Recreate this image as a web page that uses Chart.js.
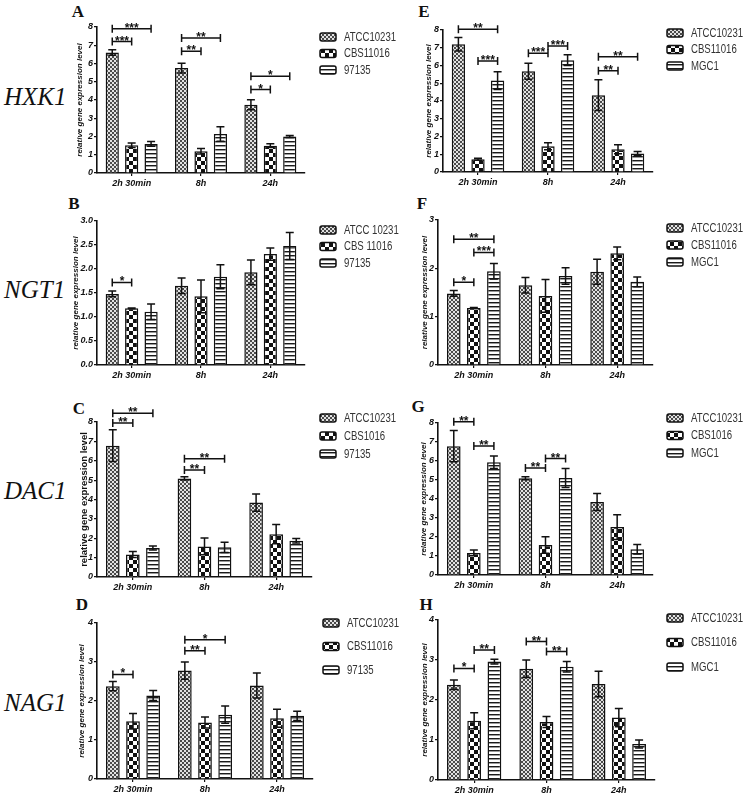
<!DOCTYPE html>
<html><head><meta charset="utf-8">
<script src="https://cdn.jsdelivr.net/npm/chart.js@4.4.1/dist/chart.umd.min.js"></script>
<style>
html,body{margin:0;padding:0;background:#fff;}
body{width:749px;height:797px;position:relative;overflow:hidden;}
canvas{position:absolute;}
.gene{position:absolute;font-family:'Liberation Serif','Times New Roman',serif;font-style:italic;font-size:25px;color:#111;line-height:1;transform:translateY(-50%);}
.let{position:absolute;font-family:'Liberation Serif','Times New Roman',serif;font-weight:bold;font-size:17px;color:#111;line-height:1;transform:translate(-50%,-50%);}
</style></head><body>
<div class="gene" style="left:4px;top:96px">HXK1</div>
<div class="gene" style="left:4px;top:289px">NGT1</div>
<div class="gene" style="left:4px;top:490px">DAC1</div>
<div class="gene" style="left:4px;top:702px">NAG1</div>
<div class="let" style="left:78px;top:11px">A</div>
<div class="let" style="left:424px;top:11px">E</div>
<div class="let" style="left:74px;top:203px">B</div>
<div class="let" style="left:422px;top:203px">F</div>
<div class="let" style="left:79px;top:408px">C</div>
<div class="let" style="left:418px;top:406px">G</div>
<div class="let" style="left:82px;top:604px">D</div>
<div class="let" style="left:426px;top:604px">H</div>
<script>
// ---------------- data ----------------
const categories = ['2h 30min', '8h', '24h'];

// HXK1 — panel A
const hxk1A_atcc = [6.6, 5.75, 3.74];   const hxk1A_atccErr = [0.15, 0.27, 0.28];
const hxk1A_cbs = [1.52, 1.19, 1.5];    const hxk1A_cbsErr = [0.12, 0.15, 0.1];
const hxk1A_97135 = [1.59, 2.14, 2.0];  const hxk1A_97135Err = [0.13, 0.4, 0.05];
// HXK1 — panel E
const hxk1E_atcc = [7.2, 5.68, 4.33];   const hxk1E_atccErr = [0.38, 0.45, 0.87];
const hxk1E_cbs = [0.72, 1.45, 1.28];   const hxk1E_cbsErr = [0.06, 0.2, 0.25];
const hxk1E_mgc1 = [5.15, 6.3, 1.04];   const hxk1E_mgc1Err = [0.5, 0.3, 0.12];
// NGT1 — panels B / F
const ngt1_atcc = [1.48, 1.65, 1.93];   const ngt1_atccErr = [0.06, 0.16, 0.26];
const ngt1_cbs = [1.18, 1.43, 2.31];    const ngt1_cbsErr = [0.01, 0.34, 0.13];
const ngt1_97135 = [1.11, 1.84, 2.48];  const ngt1_97135Err = [0.16, 0.25, 0.28];
const ngt1_mgc1 = [1.94, 1.84, 1.72];   const ngt1_mgc1Err = [0.16, 0.17, 0.1];
// DAC1 — panels C / G
const dac1_atcc = [6.78, 5.09, 3.84];   const dac1_atccErr = [0.82, 0.08, 0.45];
const dac1C_cbs = [1.16, 1.58, 2.21];   const dac1C_cbsErr = [0.15, 0.43, 0.5];
const dac1_97135 = [1.5, 1.53, 1.87];   const dac1_97135Err = [0.1, 0.27, 0.12];
const dac1G_cbs = [1.16, 1.58, 2.52];   const dac1G_cbsErr = [0.15, 0.43, 0.65];
const dac1_mgc1 = [5.93, 5.1, 1.35];    const dac1_mgc1Err = [0.33, 0.5, 0.25];
// NAG1 — panels D / H
const nag1_atcc = [2.38, 2.78, 2.4];    const nag1_atccErr = [0.12, 0.22, 0.32];
const nag1_cbs = [1.48, 1.45, 1.56];    const nag1_cbsErr = [0.2, 0.14, 0.23];
const nag1_97135 = [2.14, 1.65, 1.62];  const nag1_97135Err = [0.13, 0.22, 0.12];
const nag1_mgc1 = [2.96, 2.83, 0.9];    const nag1_mgc1Err = [0.06, 0.13, 0.1];

// legend labels
const legendA = ['ATCC10231', 'CBS11016', '97135'];
const legendB = ['ATCC 10231', 'CBS 11016', '97135'];
const legendC = ['ATCC10231', 'CBS1016', '97135'];
const legendD = ['ATCC10231', 'CBS11016', '97135'];
const legendE = ['ATCC10231', 'CBS11016', 'MGC1'];
const legendF = ['ATCC10231', 'CBS11016', 'MGC1'];
const legendG = ['ATCC10231', 'CBS1016', 'MGC1'];
const legendH = ['ATCC10231', 'CBS11016', 'MGC1'];

// significance brackets: [category, seriesFrom, seriesTo, level, label]
const sigA = [[0,0,1,7.2,'***'],[0,0,2,7.9,'***'],[1,0,1,6.67,'**'],[1,0,2,7.4,'**'],[2,0,1,4.57,'*'],[2,0,2,5.3,'*']];
const sigE = [[0,0,2,8.04,'**'],[0,1,2,6.25,'***'],[1,0,1,6.69,'***'],[1,1,2,7.1,'***'],[2,0,1,5.7,'**'],[2,0,2,6.5,'**']];
const sigB = [[0,0,1,1.72,'*']];
const sigF = [[0,0,1,1.71,'*'],[0,1,2,2.33,'***'],[0,0,2,2.6,'**']];
const sigC = [[0,0,1,7.95,'**'],[0,0,2,8.45,'**'],[1,0,1,5.52,'**'],[1,0,2,6.1,'**']];
const sigG = [[0,0,1,8.07,'**'],[0,1,2,6.79,'**'],[1,0,1,5.63,'**'],[1,1,2,6.13,'**']];
const sigD = [[0,0,1,2.68,'*'],[1,0,1,3.29,'**'],[1,0,2,3.57,'*']];
const sigH = [[0,0,1,2.79,'*'],[0,1,2,3.25,'**'],[1,0,1,3.46,'**'],[1,1,2,3.21,'**']];

// ---------------- styling ----------------
const FA = "'Liberation Sans',Arial,sans-serif";
const INK = '#111';

function makePattern(kind) {
  const c = document.createElement('canvas');
  const x = c.getContext('2d');
  if (kind === 'hatch') {
    c.width = 4; c.height = 4;
    x.fillStyle = '#e2e2e2'; x.fillRect(0, 0, 4, 4);
    x.fillStyle = '#4a4a4a';
    [[0,0],[1,1],[2,2],[3,3],[3,0],[2,1],[1,2],[0,3]].forEach(p => x.fillRect(p[0], p[1], 1, 1));
  } else if (kind === 'check') {
    c.width = 8; c.height = 8;
    x.fillStyle = '#fff'; x.fillRect(0, 0, 8, 8);
    x.fillStyle = '#111'; x.fillRect(0, 0, 4, 4); x.fillRect(4, 4, 4, 4);
  } else {
    c.width = 4; c.height = 4;
    x.fillStyle = '#fff'; x.fillRect(0, 0, 4, 4);
    x.fillStyle = '#1a1a1a'; x.fillRect(0, 0, 4, 1);
    x.fillStyle = '#9a9a9a'; x.fillRect(0, 1, 4, 1);
  }
  return document.createElement('canvas').getContext('2d').createPattern(c, 'repeat');
}
const PAT = [makePattern('hatch'), makePattern('check'), makePattern('lines')];

function makePanel(p) {
  const cl = p.axisX - 40, ct = p.top - 34;
  const cr = p.side === 'L' ? 425 : 749;
  const cb = p.bottom + 22;
  const cv = document.createElement('canvas');
  cv.width = cr - cl; cv.height = cb - ct;
  cv.style.left = cl + 'px'; cv.style.top = ct + 'px';
  cv.style.width = (cr - cl) + 'px'; cv.style.height = (cb - ct) + 'px';
  document.body.appendChild(cv);

  const datasets = p.series.map((s, i) => ({
    label: p.legend[i], data: s[0], errors: s[1],
    backgroundColor: PAT[i], borderColor: INK, borderWidth: 1.5,
    categoryPercentage: 0.84, barPercentage: 0.68
  }));

  const overlay = {
    id: 'overlay',
    afterDatasetsDraw(chart) {
      const ctx = chart.ctx, ys = chart.scales.y;
      ctx.save();
      ctx.strokeStyle = INK; ctx.lineWidth = 1.5;
      // error bars
      chart.data.datasets.forEach((ds, i) => {
        chart.getDatasetMeta(i).data.forEach((bar, j) => {
          const v = ds.data[j], e = ds.errors[j];
          const y1 = ys.getPixelForValue(v + e), y2 = ys.getPixelForValue(Math.max(v - e, 0));
          const x = bar.x, w = 4;
          ctx.beginPath();
          ctx.moveTo(x, y1); ctx.lineTo(x, y2);
          ctx.moveTo(x - w, y1); ctx.lineTo(x + w, y1);
          ctx.moveTo(x - w, y2); ctx.lineTo(x + w, y2);
          ctx.stroke();
        });
      });
      // significance brackets
      ctx.fillStyle = INK;
      ctx.font = 'bold 12px ' + FA;
      ctx.textAlign = 'center'; ctx.textBaseline = 'alphabetic';
      p.sig.forEach(b => {
        const x1 = chart.getDatasetMeta(b[1]).data[b[0]].x;
        const x2 = chart.getDatasetMeta(b[2]).data[b[0]].x;
        const yy = ys.getPixelForValue(b[3]);
        ctx.beginPath();
        ctx.moveTo(x1, yy); ctx.lineTo(x2, yy);
        ctx.moveTo(x1, yy - 4); ctx.lineTo(x1, yy + 4);
        ctx.moveTo(x2, yy - 4); ctx.lineTo(x2, yy + 4);
        ctx.stroke();
        ctx.fillText(b[4], (x1 + x2) / 2, yy + 3);
      });
      // legend (condensed text)
      ctx.font = '12px ' + FA;
      ctx.textAlign = 'left'; ctx.textBaseline = 'middle';
      chart.data.datasets.forEach((ds, i) => {
        const lx = p.legX - cl, ly = p.legY + i * p.legGap - ct;
        ctx.beginPath();
        ctx.roundRect(lx, ly - 4, 16, 8, 2);
        ctx.fillStyle = ds.backgroundColor; ctx.fill();
        ctx.lineWidth = 1.5; ctx.strokeStyle = INK; ctx.stroke();
        ctx.save();
        ctx.translate(lx + 24, ly + 0.5);
        ctx.scale(0.8, 1);
        ctx.fillStyle = '#333';
        ctx.fillText(ds.label, 0, 0);
        ctx.restore();
      });
      ctx.restore();
    }
  };

  const tickFont = { family: FA, size: 9, weight: 'bold', style: 'italic' };
  const gridCfg = { display: true, drawOnChartArea: false, drawTicks: true, tickLength: 3, color: INK, lineWidth: 1.2 };
  const titleFont = p.plainTitle ? { family: FA, size: 9.5, weight: 'bold', style: 'normal' } : { family: FA, size: 8, weight: 'bold', style: 'italic' };
  const lh = titleFont.size * 1.2;

  new Chart(cv, {
    type: 'bar',
    data: { labels: categories, datasets },
    plugins: [overlay],
    options: {
      responsive: false, animation: false, devicePixelRatio: 1,
      layout: { padding: { top: p.top - ct, right: cr - p.right, left: 0, bottom: 0 } },
      plugins: { legend: { display: false }, tooltip: { enabled: false } },
      scales: {
        x: {
          grid: Object.assign({ offset: false }, gridCfg),
          border: { display: true, color: INK, width: 1.6 },
          ticks: { font: tickFont, color: INK, padding: 2, maxRotation: 0, autoSkip: false },
          afterFit(s) { s.height = cb - p.bottom; }
        },
        y: {
          min: 0, max: p.yMax,
          grid: gridCfg,
          border: { display: true, color: INK, width: 1.6 },
          ticks: { stepSize: p.step, color: INK, font: tickFont, padding: 1,
                   callback: v => p.dec ? Number(v).toFixed(1) : v },
          title: { display: true, text: 'relative gene expression level', color: INK, font: titleFont,
                   padding: { top: 40 - p.titleOff - lh / 2, bottom: 0 } },
          afterFit(s) { s.width = 40; }
        }
      }
    }
  });
}

makePanel({ side:'L', axisX:97, top:27, bottom:173, right:305, legX:320, legY:37, legGap:16.5, titleOff:17, yMax:8, step:1,
  legend: legendA, sig: sigA,
  series: [[hxk1A_atcc, hxk1A_atccErr], [hxk1A_cbs, hxk1A_cbsErr], [hxk1A_97135, hxk1A_97135Err]] });
makePanel({ side:'R', axisX:443, top:30, bottom:172, right:653, legX:667, legY:33, legGap:16.5, titleOff:14, yMax:8, step:1,
  legend: legendE, sig: sigE,
  series: [[hxk1E_atcc, hxk1E_atccErr], [hxk1E_cbs, hxk1E_cbsErr], [hxk1E_mgc1, hxk1E_mgc1Err]] });
makePanel({ side:'L', axisX:97, top:221, bottom:365, right:305, legX:320, legY:230, legGap:16.5, titleOff:21, yMax:3, step:0.5, dec:true,
  legend: legendB, sig: sigB,
  series: [[ngt1_atcc, ngt1_atccErr], [ngt1_cbs, ngt1_cbsErr], [ngt1_97135, ngt1_97135Err]] });
makePanel({ side:'R', axisX:438, top:220, bottom:365, right:653, legX:667, legY:228, legGap:17, titleOff:13, yMax:3, step:1,
  legend: legendF, sig: sigF,
  series: [[ngt1_atcc, ngt1_atccErr], [ngt1_cbs, ngt1_cbsErr], [ngt1_mgc1, ngt1_mgc1Err]] });
makePanel({ side:'L', axisX:97, top:422, bottom:577, right:312, legX:320, legY:418, legGap:18, titleOff:13, yMax:8, step:1, plainTitle:true,
  legend: legendC, sig: sigC,
  series: [[dac1_atcc, dac1_atccErr], [dac1C_cbs, dac1C_cbsErr], [dac1_97135, dac1_97135Err]] });
makePanel({ side:'R', axisX:438, top:423, bottom:575, right:653, legX:667, legY:418, legGap:17.5, titleOff:14, yMax:8, step:1,
  legend: legendG, sig: sigG,
  series: [[dac1_atcc, dac1_atccErr], [dac1G_cbs, dac1G_cbsErr], [dac1_mgc1, dac1_mgc1Err]] });
makePanel({ side:'L', axisX:97, top:623, bottom:779, right:313, legX:323, legY:623, legGap:23.5, titleOff:15, yMax:4, step:1,
  legend: legendD, sig: sigD,
  series: [[nag1_atcc, nag1_atccErr], [nag1_cbs, nag1_cbsErr], [nag1_97135, nag1_97135Err]] });
makePanel({ side:'R', axisX:438, top:620, bottom:780, right:655, legX:667, legY:618, legGap:24.5, titleOff:13, yMax:4, step:1,
  legend: legendH, sig: sigH,
  series: [[nag1_atcc, nag1_atccErr], [nag1_cbs, nag1_cbsErr], [nag1_mgc1, nag1_mgc1Err]] });
</script>
</body></html>
